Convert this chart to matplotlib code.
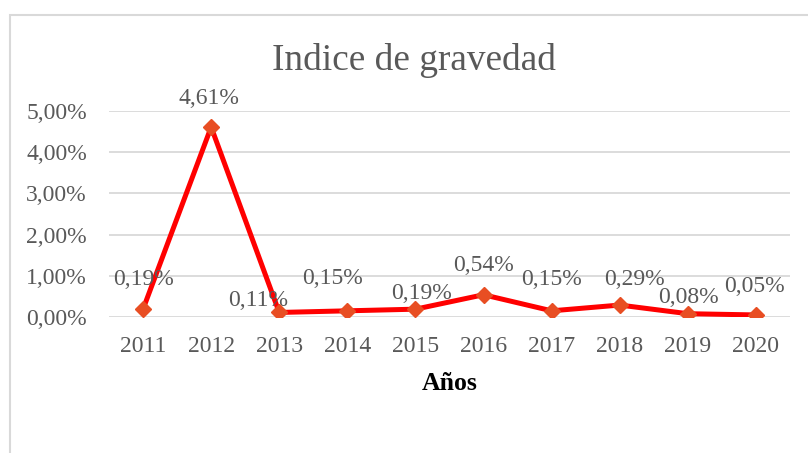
import matplotlib.pyplot as plt
from matplotlib.patches import Rectangle

years = ["2011", "2012", "2013", "2014", "2015", "2016", "2017", "2018", "2019", "2020"]
values = [0.19, 4.61, 0.11, 0.15, 0.19, 0.54, 0.15, 0.29, 0.08, 0.05]
labels = ["0,19%", "4,61%", "0,11%", "0,15%", "0,19%", "0,54%", "0,15%", "0,29%", "0,08%", "0,05%"]
# label offsets in pixels (dx, dy) - mimic Excel placement
offsets = [(0, 30), (-2, 29), (-21, 12), (-15, 32), (6, 16), (0, 29), (0, 31), (15, 26), (1, 16), (-2, 28)]
yticks = [0, 1, 2, 3, 4, 5]
yticklabels = ["0,00%", "1,00%", "2,00%", "3,00%", "4,00%", "5,00%"]

plt.rcParams["font.family"] = ["Liberation Serif", "DejaVu Serif"]
gray = "#595959"

fig = plt.figure(figsize=(8.08, 4.53), dpi=100)
fig.patches.append(Rectangle((9.5 / 808, -0.1), 1.2, 1 - 14.5 / 453 + 0.1,
                             transform=fig.transFigure, fill=False,
                             edgecolor="#D9D9D9", linewidth=1.5))

ax = fig.add_axes([109 / 808, 1 - 317 / 453, (790 - 109) / 808, (317 - 111) / 453])
x = list(range(len(years)))
ax.plot(x, values, color="#FF0000", linewidth=3.6, zorder=3)
ax.plot(x, values, linestyle="none", marker="D", markersize=8,
        color="#E84E23", zorder=4)

for xi, v, lab, (dx, dy) in zip(x, values, labels, offsets):
    ax.annotate(lab, (xi, v), xytext=(dx * 0.72, dy * 0.72), textcoords="offset points",
                ha="center", va="center", fontsize=17, color=gray)

ax.set_xlim(-0.5, len(years) - 0.5)
ax.set_ylim(0, 5)
ax.set_yticks(yticks)
ax.set_yticklabels(yticklabels)
ax.set_xticks(x)
ax.set_xticklabels(years)
ax.tick_params(axis="both", length=0, labelsize=17, labelcolor=gray)
ax.tick_params(axis="y", pad=16)
ax.tick_params(axis="x", pad=14)
ax.grid(axis="y", color="#D9D9D9", linewidth=1.3)
ax.set_axisbelow(True)
for s in ax.spines.values():
    s.set_visible(False)

fig.text(414 / 808, 1 - 70 / 453, "Indice de gravedad", fontsize=26.8, color=gray,
         ha="center", va="baseline")
fig.text(449.5 / 808, 1 - 383 / 453, "Años", fontsize=18.5, fontweight="bold",
         color="black", ha="center", va="center")

fig.savefig("out.png", dpi=100)
